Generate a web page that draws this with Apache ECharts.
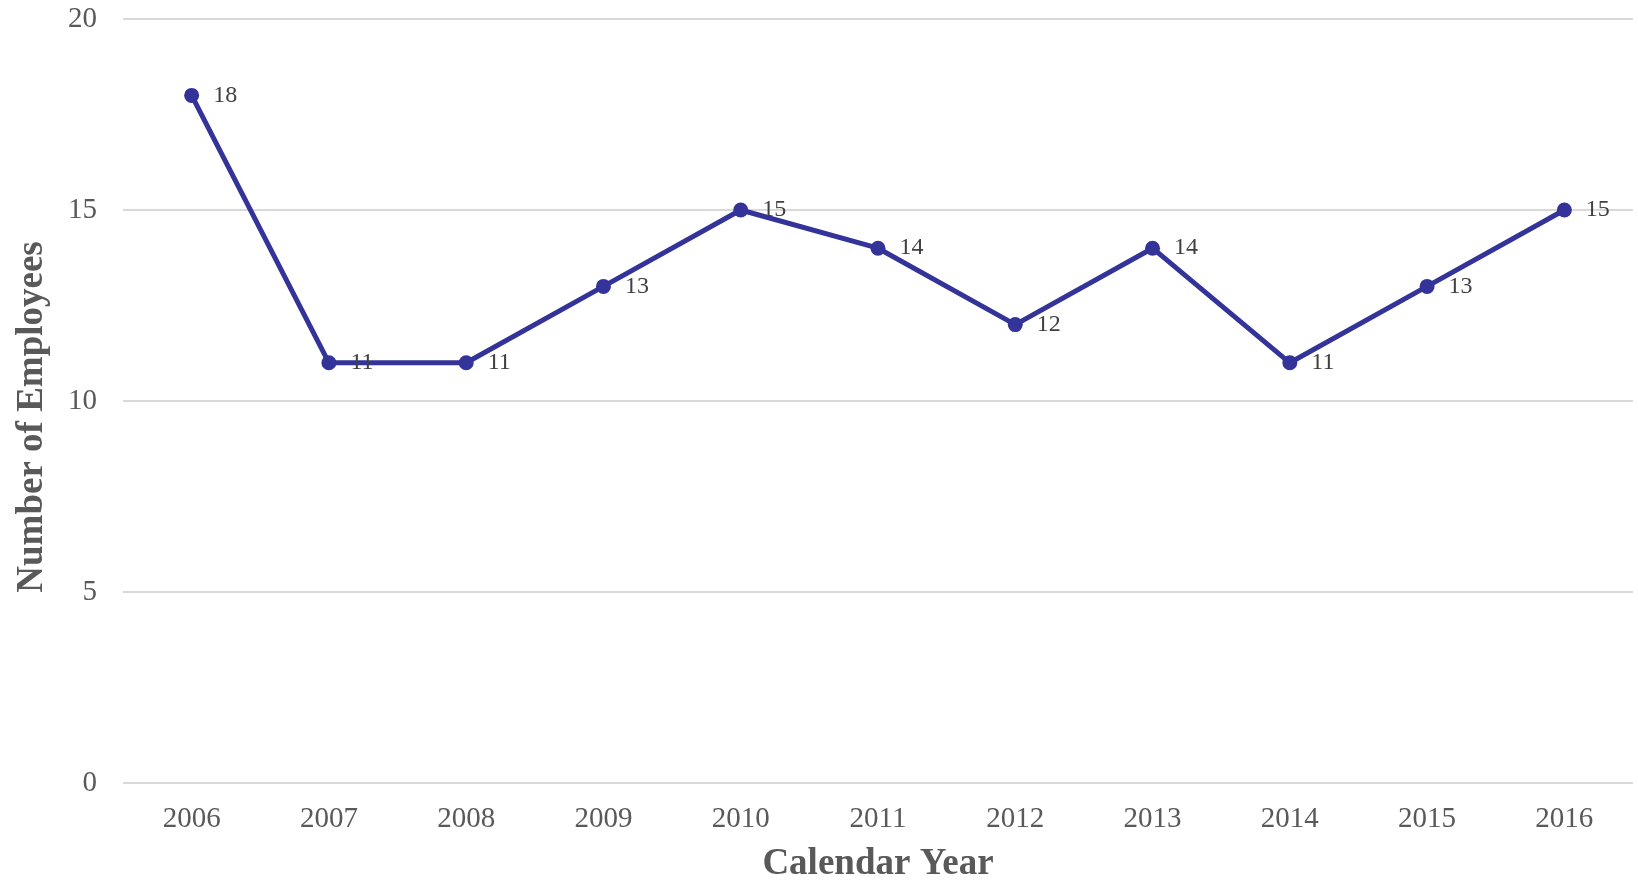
<!DOCTYPE html>
<html>
<head>
<meta charset="utf-8">
<script src="https://cdn.jsdelivr.net/npm/echarts@6/dist/echarts.min.js"></script>
<style>
  html, body { margin: 0; padding: 0; background: #fff; }
  #chart { width: 1638px; height: 882px; }
</style>
</head>
<body>
<div id="chart"></div>
<script>
const years = ['2006', '2007', '2008', '2009', '2010', '2011', '2012', '2013', '2014', '2015', '2016']
const employees = [18, 11, 11, 13, 15, 14, 12, 14, 11, 13, 15]

const chart = echarts.init(document.getElementById('chart'))
const font = '"Liberation Serif", "Times New Roman", serif'

const option = {
  animation: false,
  textStyle: { fontFamily: font },
  grid: {
    left: 123,
    right: 5,
    top: 19,
    bottom: 99,
    outerBoundsMode: 'none'
  },
  xAxis: {
    type: 'category',
    data: years,
    boundaryGap: true,
    name: 'Calendar Year',
    nameLocation: 'middle',
    nameGap: 63,
    nameTextStyle: { color: '#595959', fontSize: 37, fontWeight: 'bold', fontFamily: font },
    axisLine: { show: false },
    axisTick: { show: false },
    axisLabel: { color: '#595959', fontSize: 29, margin: 22, fontFamily: font }
  },
  yAxis: {
    type: 'value',
    min: 0,
    max: 20,
    interval: 5,
    name: 'Number of Employees',
    nameLocation: 'middle',
    nameGap: 72,
    nameTextStyle: { color: '#595959', fontSize: 37, fontWeight: 'bold', fontFamily: font, padding: [0, 32, 0, 0] },
    axisLine: { show: false },
    axisTick: { show: false },
    axisLabel: { color: '#595959', fontSize: 29, margin: 26, fontFamily: font },
    splitLine: { lineStyle: { color: '#d9d9d9', width: 2 } }
  },
  series: [
    {
      name: 'Employees',
      type: 'line',
      data: employees,
      color: '#333399',
      symbol: 'circle',
      symbolSize: 15,
      lineStyle: { width: 5, color: '#333399' },
      itemStyle: { color: '#333399' },
      label: {
        show: true,
        position: 'right',
        distance: 14,
        color: '#404040',
        fontSize: 24,
        fontFamily: font
      }
    }
  ]
}

chart.setOption(option)
</script>
</body>
</html>
